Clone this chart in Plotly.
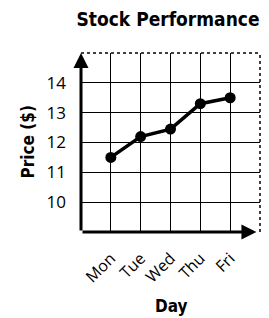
import plotly.graph_objects as go

days = ["Mon", "Tue", "Wed", "Thu", "Fri"]
prices = [11.5, 12.2, 12.45, 13.3, 13.5]
y_ticks = [10, 11, 12, 13, 14]

title_font = "DejaVu Sans Condensed, DejaVu Sans"
tick_font = "Open Sans, Noto Sans, sans-serif"

fig = go.Figure()
fig.add_trace(go.Scatter(
    x=days, y=prices, mode="lines+markers",
    line=dict(color="black", width=3.5),
    marker=dict(color="black", size=11),
    showlegend=False, cliponaxis=False,
))

fig.update_layout(
    width=269, height=318,
    margin=dict(l=81, r=9, t=53, b=86),
    paper_bgcolor="white", plot_bgcolor="white",
    title=dict(text="<b>Stock Performance</b>", x=168 / 269, xref="container", xanchor="center",
               y=1 - 19 / 318, yref="container", yanchor="middle",
               font=dict(family=title_font, size=19, color="black")),
    xaxis=dict(
        type="category", categoryorder="array", categoryarray=days,
        range=[-1, 5], showgrid=True, gridcolor="black", gridwidth=1.2,
        showline=False, zeroline=False, tickangle=-45,
        tickfont=dict(family=tick_font, size=16, color="black"),
        ticklabelstandoff=13,
        fixedrange=True,
    ),
    yaxis=dict(
        range=[9, 15], tickvals=y_ticks, showgrid=True, gridcolor="black", gridwidth=1.2,
        showline=False, zeroline=False,
        tickfont=dict(family=tick_font, size=17, color="black"),
        ticklabelstandoff=14,
        fixedrange=True,
    ),
)

# axis titles
fig.add_annotation(xref="paper", yref="paper", x=0.5, y=-(306 - 232) / 179,
                   xanchor="center", yanchor="middle", showarrow=False,
                   text="<b>Day</b>", font=dict(family=title_font, size=17, color="black"))
fig.add_annotation(xref="paper", yref="paper", x=-(81 - 27) / 179, y=0.5,
                   xanchor="center", yanchor="middle", showarrow=False, textangle=-90,
                   text="<b>Price ($)</b>", font=dict(family=title_font, size=17, color="black"))

# dotted top and right borders
fig.add_shape(type="line", xref="x domain", yref="y domain", x0=0, x1=1, y0=1, y1=1,
              line=dict(color="black", width=1.5, dash="dot"))
fig.add_shape(type="line", xref="x domain", yref="y domain", x0=1, x1=1, y0=0, y1=1,
              line=dict(color="black", width=1.5, dash="dot"))

# axes with arrows
fig.add_annotation(xref="x domain", yref="y domain", axref="x domain", ayref="y domain",
                   x=0, y=1.0, ax=0, ay=0, showarrow=True, arrowhead=2, arrowsize=1,
                   arrowwidth=3, arrowcolor="black", text="", standoff=0, startstandoff=0)
fig.add_annotation(xref="x domain", yref="y domain", axref="x domain", ayref="y domain",
                   x=0.98, y=0, ax=0, ay=0, showarrow=True, arrowhead=2, arrowsize=1,
                   arrowwidth=3, arrowcolor="black", text="", standoff=0, startstandoff=0)

fig.write_html("out.html", config={"displayModeBar": False},
               post_script="document.body.style.margin='0';document.body.style.overflow='hidden';")
